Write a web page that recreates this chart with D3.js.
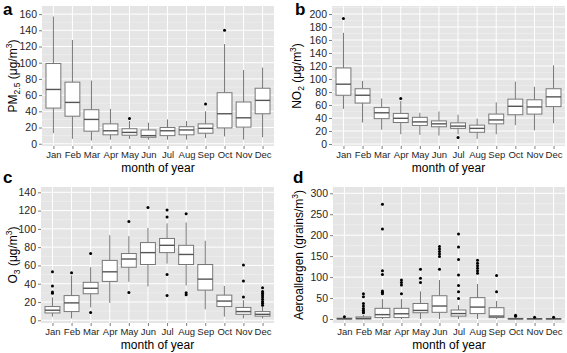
<!DOCTYPE html>
<html lang="en">
<head>
<meta charset="utf-8">
<title>Monthly boxplots</title>
<script src="https://d3js.org/d3.v7.min.js"></script>
<style>
  body { margin: 0; background: #fff; }
  svg { font-family: "Liberation Sans", Arial, sans-serif; display: block; }
  .tick text { fill: #262626; font-size: 9.5px; }
  .yax .tick text { font-size: 10.5px; }
  .tick line { stroke: #7f7f7f; }
  .domain { display: none; }
</style>
</head>
<body>
<script>
const months = ["Jan","Feb","Mar","Apr","May","Jun","Jul","Aug","Sep","Oct","Nov","Dec"];

// PM2.5
const pmLo  = [13, 6, 4, 5, 6, 5, 5, 5, 7, 9, 5, 8];
const pmQ1  = [44, 34, 15.5, 11, 10.5, 8, 10, 11, 13, 19.5, 20.5, 37];
const pmMed = [67, 51, 30, 16, 14, 10, 16, 17, 19, 37, 32, 53.5];
const pmQ3  = [99, 76, 42, 24.5, 18.5, 17, 20, 21, 24.5, 63, 51.5, 68.5];
const pmHi  = [157, 128, 78, 43, 28, 26, 30, 28, 40, 123, 91, 94];
const pmOut = [[], [], [], [], [31], [], [], [], [49], [140], [], []];

// NO2
const noLo  = [54, 33, 22, 15, 14, 13, 15, 8, 15, 29, 21, 32];
const noQ1  = [75, 63, 39, 33, 28.5, 26.5, 24, 18, 31, 45, 46, 57.5];
const noMed = [92, 75, 48, 39.5, 34, 31, 27.5, 24, 37, 58, 57, 72.5];
const noQ3  = [117, 85, 56, 47, 41, 35.5, 32.5, 29, 46, 69, 68, 85];
const noHi  = [171, 97, 70, 66, 48, 50, 45, 39, 64, 96, 88, 121];
const noOut = [[193], [], [], [70], [], [], [10], [], [], [], [], []];

// O3
const o3Lo  = [4, 2, 14, 19, 42, 37, 62, 38, 12, 4, 2, 2];
const o3Q1  = [8, 9.5, 29, 42.5, 58, 61, 74, 61, 33, 15, 6.5, 4.5];
const o3Med = [11, 19, 35, 53, 67, 74, 82, 72, 45, 21, 9.5, 6.5];
const o3Q3  = [15, 27, 41.5, 65.5, 73, 85, 89.5, 82, 61, 27.5, 14, 9.5];
const o3Hi  = [25, 49, 58, 93, 92, 101, 106, 107, 87, 37.5, 22, 15];
const o3Out = [[29.5, 31, 37.5, 53], [52], [8.5, 73], [], [30.5, 108], [123.5],
               [27, 50, 113, 120.5], [28, 30, 116.5], [], [], [25.5, 43, 60.5],
               [16.5, 18.5, 20.5, 23, 25.5, 27.5, 29.5, 31.5, 35.5]];

// Aeroallergen
const alLo  = [0, 0, 0, 0, 0, 0, 0, 0, 0, 0, 0, 0];
const alQ1  = [0, 0, 3.5, 3.5, 15, 16, 7, 13, 3.5, 0, 0, 0];
const alMed = [0.5, 1.5, 10.5, 12.5, 20.5, 31, 13, 28.5, 7, 0.5, 0.5, 0.5];
const alQ3  = [2, 5, 25.5, 25.5, 37, 55.5, 21.5, 51, 27, 1.5, 1, 1];
const alHi  = [3, 9.5, 47.5, 47.5, 66, 93, 33, 83.5, 43, 3, 1.5, 1.5];
const alOut = [[5.5], [15, 17, 21, 25, 31, 37, 53, 60], [60, 64, 67, 106, 115, 215, 274],
               [60, 81, 87, 93], [87, 97, 119], [119, 149, 155, 161, 167, 173],
               [49, 65, 80, 105, 142, 172, 203], [109, 115, 121, 127, 133, 140],
               [65, 104], [6.5, 9], [4.5], [4]];

const width = 567, height = 353;
const svg = d3.select("body").append("svg")
    .attr("width", width)
    .attr("height", height);

function drawPanel(p) {
    const x = d3.scalePoint().domain(months).range([p.x0, p.x1]).padding(0.6);
    const y = d3.scaleLinear().domain(p.dom).range([p.y1, p.y0]);
    const g = svg.append("g");

    g.append("rect")
        .attr("x", p.x0).attr("y", p.y0)
        .attr("width", p.x1 - p.x0).attr("height", p.y1 - p.y0)
        .attr("fill", "#e5e5e5");

    const majors = d3.range(0, p.max + 0.001, p.step);
    const minors = majors.slice(0, -1).map(v => v + p.step / 2);
    if (y(p.max + p.step / 2) > p.y0) minors.push(p.max + p.step / 2);

    g.selectAll(".minor").data(minors).enter().append("line")
        .attr("x1", p.x0).attr("x2", p.x1)
        .attr("y1", d => y(d)).attr("y2", d => y(d))
        .attr("stroke", "#f2f2f2").attr("stroke-width", 0.6);
    g.selectAll(".major").data(majors).enter().append("line")
        .attr("x1", p.x0).attr("x2", p.x1)
        .attr("y1", d => y(d)).attr("y2", d => y(d))
        .attr("stroke", "#fff").attr("stroke-width", 1);
    g.selectAll(".vgrid").data(months).enter().append("line")
        .attr("x1", d => x(d)).attr("x2", d => x(d))
        .attr("y1", p.y0).attr("y2", p.y1)
        .attr("stroke", "#fff").attr("stroke-width", 1);

    const bw = x.step() * 0.78;
    const box = g.selectAll(".box").data(months).enter().append("g");

    box.append("line")
        .attr("x1", d => x(d)).attr("x2", d => x(d))
        .attr("y1", (d, i) => y(p.hi[i])).attr("y2", (d, i) => y(p.q3[i]))
        .attr("stroke", "#777").attr("stroke-width", 1);
    box.append("line")
        .attr("x1", d => x(d)).attr("x2", d => x(d))
        .attr("y1", (d, i) => y(p.q1[i])).attr("y2", (d, i) => y(p.lo[i]))
        .attr("stroke", "#777").attr("stroke-width", 1);
    box.append("rect")
        .attr("x", d => x(d) - bw / 2).attr("width", bw)
        .attr("y", (d, i) => y(p.q3[i]))
        .attr("height", (d, i) => Math.max(0.5, y(p.q1[i]) - y(p.q3[i])))
        .attr("fill", "#fff").attr("stroke", "#777").attr("stroke-width", 1);
    box.append("line")
        .attr("x1", d => x(d) - bw / 2).attr("x2", d => x(d) + bw / 2)
        .attr("y1", (d, i) => y(p.med[i])).attr("y2", (d, i) => y(p.med[i]))
        .attr("stroke", "#555").attr("stroke-width", 1.4);

    months.forEach((m, i) => {
        g.selectAll(null).data(p.out[i]).enter().append("circle")
            .attr("cx", x(m)).attr("cy", d => y(d)).attr("r", 1.5)
            .attr("fill", "#000");
    });

    g.append("g")
        .attr("class", "yax")
        .attr("transform", `translate(${p.x0},0)`)
        .call(d3.axisLeft(y).tickValues(majors).tickSize(3).tickPadding(2).tickFormat(d3.format("d")));
    g.append("g")
        .attr("transform", `translate(0,${p.y1})`)
        .call(d3.axisBottom(x).tickSize(3).tickPadding(2));

    g.append("text")
        .attr("x", (p.x0 + p.x1) / 2).attr("y", p.y1 + 26)
        .attr("text-anchor", "middle")
        .style("font-size", "12px").attr("fill", "#000")
        .text("month of year");

    const yt = g.append("text")
        .attr("transform", `translate(${p.tx},${(p.y0 + p.y1) / 2}) rotate(-90)`)
        .attr("text-anchor", "middle")
        .style("font-size", "12px").attr("fill", "#000");
    p.title.forEach(t => {
        const s = yt.append("tspan").text(t.s);
        if (t.sub) s.attr("dy", 3).style("font-size", "8.5px");
        if (t.sup) s.attr("dy", -5).style("font-size", "8.5px");
        if (t.back) s.attr("dy", t.back);
    });

    g.append("text")
        .attr("x", p.lx).attr("y", p.ly)
        .style("font-size", "17px").style("font-weight", "bold")
        .text(p.label);
}

drawPanel({
    label: "a", lx: 3, ly: 15,
    x0: 42, x1: 274, y0: 6, y1: 146, dom: [-2.8, 170], max: 160, step: 20,
    lo: pmLo, q1: pmQ1, med: pmMed, q3: pmQ3, hi: pmHi, out: pmOut, tx: 17,
    title: [{s: "PM"}, {s: "2.5", sub: true}, {s: " (μg/m", back: -3}, {s: "3", sup: true}, {s: ")", back: 5}]
});
drawPanel({
    label: "b", lx: 295, ly: 15,
    x0: 332, x1: 565, y0: 6, y1: 146, dom: [-3.1, 212.3], max: 200, step: 20,
    lo: noLo, q1: noQ1, med: noMed, q3: noQ3, hi: noHi, out: noOut, tx: 301,
    title: [{s: "NO"}, {s: "2", sub: true}, {s: " (μg/m", back: -3}, {s: "3", sup: true}, {s: ")", back: 5}]
});
drawPanel({
    label: "c", lx: 3, ly: 183,
    x0: 41, x1: 274, y0: 187, y1: 323, dom: [-3, 145.8], max: 140, step: 20,
    lo: o3Lo, q1: o3Q1, med: o3Med, q3: o3Q3, hi: o3Hi, out: o3Out, tx: 17,
    title: [{s: "O"}, {s: "3", sub: true}, {s: " (μg/m", back: -3}, {s: "3", sup: true}, {s: ")", back: 5}]
});
drawPanel({
    label: "d", lx: 293, ly: 183,
    x0: 333, x1: 565, y0: 187, y1: 323, dom: [-9.5, 315], max: 300, step: 50,
    lo: alLo, q1: alQ1, med: alMed, q3: alQ3, hi: alHi, out: alOut, tx: 303,
    title: [{s: "Aeroallergen (grains/m"}, {s: "3", sup: true}, {s: ")", back: 5}]
});
</script>
</body>
</html>
